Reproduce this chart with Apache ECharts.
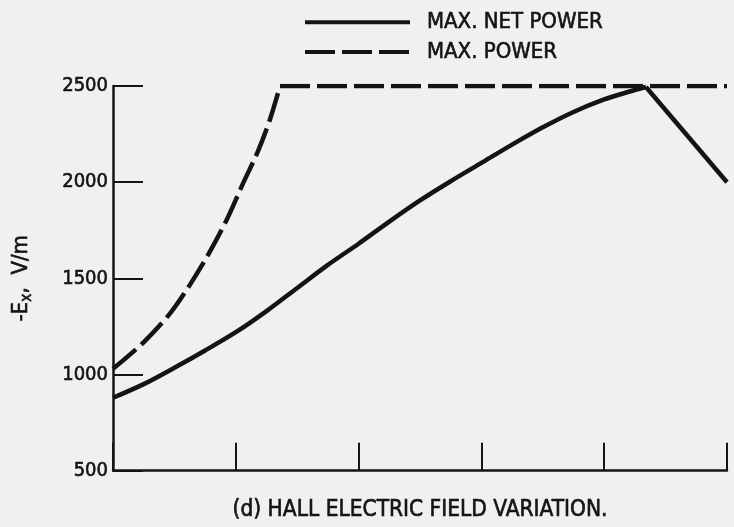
<!DOCTYPE html>
<html><head><meta charset="utf-8">
<script src="https://cdn.jsdelivr.net/npm/echarts@6/dist/echarts.min.js"></script>
<style>html,body{margin:0;padding:0;background:#f0f0ef;}#c{width:734px;height:527px;}</style>
</head><body><div id="c"></div>
<script>
const seriesNames = ['MAX. NET POWER', 'MAX. POWER'];
const netPowerRise = [[0,879],[0.25,950],[0.5,1035],[0.75,1125],[1,1220],[1.25,1330],[1.5,1450],[1.75,1570],[2,1680],[2.25,1795],[2.5,1905],[2.75,2005],[3,2100],[3.25,2195],[3.5,2285],[3.75,2365],[4,2430],[4.2,2470],[4.34,2495]];
const netPowerFall = [[4.34,2495],[5,2000]];
const maxPowerRise = [[0,1030],[0.245,1165],[0.465,1318],[0.63,1470],[0.79,1640],[0.93,1810],[1.06,1995],[1.18,2160],[1.28,2330],[1.36,2500]];
const maxPowerFlat = [[1.36,2500],[5,2500]];
const yTicks = [500,1000,1500,2000,2500];
const xTicks = [0,1,2,3,4,5];
const FONT = "'Liberation Sans Narrow','DejaVu Sans Condensed',sans-serif";
const INK = '#141414';
const heavy = {textBorderColor: INK, textBorderWidth: 0.6};
const chart = echarts.init(document.getElementById('c'));
chart.setOption({
  backgroundColor: '#f0f0ef',
  animation: false,
  grid: {left: 113, right: 7, top: 86, bottom: 50},
  legend: {
    orient: 'vertical', left: 298, top: 6, itemGap: 7,
    itemWidth: 105, itemHeight: 21,
    itemStyle: {opacity: 0},
    lineStyle: {width: 4},
    textStyle: Object.assign({fontFamily: FONT, fontSize: 22, color: INK, padding: [0,0,0,12]}, heavy),
    data: seriesNames
  },
  xAxis: {
    type: 'value', min: xTicks[0], max: xTicks[xTicks.length-1], interval: 1,
    name: '(d) HALL ELECTRIC FIELD VARIATION.', nameLocation: 'middle', nameGap: 28,
    nameTextStyle: Object.assign({fontFamily: FONT, fontSize: 22.5, color: INK}, heavy),
    axisLine: {lineStyle: {color: INK, width: 2.5}},
    axisTick: {inside: true, length: 28, lineStyle: {color: INK, width: 2}},
    axisLabel: {show: false}, splitLine: {show: false}
  },
  yAxis: {
    type: 'value', min: yTicks[0], max: yTicks[yTicks.length-1], interval: 500,
    name: '{a|-E}{b|x}{a|,  V/m}', nameLocation: 'middle', nameGap: 78, nameRotate: 90,
    nameTextStyle: {rich: {
      a: Object.assign({fontFamily: FONT, fontSize: 22, color: INK}, heavy),
      b: Object.assign({fontFamily: FONT, fontSize: 16, color: INK, padding: [12,0,0,0]}, heavy)
    }},
    axisLine: {show: true, lineStyle: {color: INK, width: 2.5}},
    axisTick: {inside: true, length: 30, lineStyle: {color: INK, width: 2}},
    axisLabel: Object.assign({fontFamily: FONT, fontSize: 20, color: INK, margin: 5,
      formatter: v => String(v)}, heavy),
    splitLine: {show: false}
  },
  series: [
    {name: seriesNames[0], type: 'line', data: netPowerRise, symbol: 'none', smooth: 0.3,
     lineStyle: {color: INK, width: 4.5}, itemStyle: {color: INK}},
    {name: seriesNames[0], type: 'line', data: netPowerFall, symbol: 'none', smooth: false,
     lineStyle: {color: INK, width: 4.5}, itemStyle: {color: INK}},
    {name: seriesNames[1], type: 'line', data: maxPowerRise, symbol: 'none', smooth: 0.3,
     lineStyle: {color: INK, width: 4.5, type: [30,7]}, itemStyle: {color: INK}},
    {name: seriesNames[1], type: 'line', data: maxPowerFlat, symbol: 'none', smooth: false,
     lineStyle: {color: INK, width: 4.5, type: [30,7]}, itemStyle: {color: INK}}
  ]
});
</script></body></html>
